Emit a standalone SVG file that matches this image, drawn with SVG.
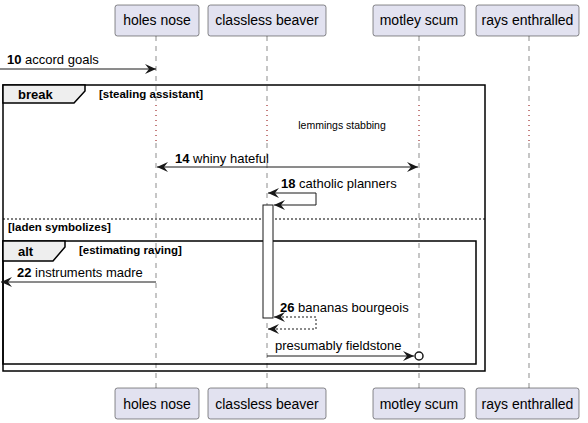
<svg xmlns="http://www.w3.org/2000/svg" width="588" height="423" viewBox="0 0 588 423">
<defs>
<style>
text{font-family:"Liberation Sans",Arial,sans-serif;fill:#000}
.pbox{fill:#E2E2F0;stroke:#181818;stroke-width:0.5}
.pt{font-size:14px}
.life{stroke:#181818;stroke-width:0.5;stroke-dasharray:5,5;fill:none}
.delay{stroke:#8B0000;stroke-width:1;stroke-dasharray:1,4;fill:none}
.msg{stroke:#181818;stroke-width:1;fill:none}
.dash{stroke:#181818;stroke-width:1;fill:none;stroke-dasharray:2,2}
.mt{font-size:13px}
.num{font-weight:bold}
.frame{fill:none;stroke:#000;stroke-width:1.5}
.tab{fill:#EEEEEE;stroke:#000;stroke-width:1.5}
.ft{font-size:13px;font-weight:bold}
.cond{font-size:11.5px;font-weight:bold}
</style>
<marker id="ah" viewBox="0 0 12 10" refX="11" refY="5" markerWidth="12" markerHeight="10" markerUnits="userSpaceOnUse" orient="auto-start-reverse">
<path d="M0,0 L11,5 L0,10 L4,5 Z" fill="#181818"/>
</marker>
</defs>
<rect width="588" height="423" fill="#fff"/>

<g id="lifelines">
<path class="life" d="M156,36 V105 M156,143 V388"/>
<path class="delay" d="M156,105 V143"/>
<path class="life" d="M267,36 V105 M267,143 V388"/>
<path class="delay" d="M267,105 V143"/>
<path class="life" d="M419,36 V105 M419,143 V388"/>
<path class="delay" d="M419,105 V143"/>
<path class="life" d="M529,36 V105 M529,143 V388"/>
<path class="delay" d="M529,105 V143"/>
</g>

<g id="frames">
<rect class="frame" x="3" y="85" width="482" height="286"/>
<path class="tab" d="M3,85 H85 V91 L74,103 H3 Z"/>
<text class="ft" x="18" y="99">break</text>
<text class="cond" x="99" y="98">[stealing assistant]</text>
<line x1="3" y1="219" x2="485" y2="219" stroke="#000" stroke-width="1" stroke-dasharray="2,2"/>
<text class="cond" x="8" y="231">[laden symbolizes]</text>
<rect class="frame" x="3" y="241" width="473" height="123"/>
<path class="tab" d="M3,241 H65 V247 L53,261 H3 Z"/>
<text class="ft" x="18" y="256">alt</text>
<text class="cond" x="79" y="254">[estimating raving]</text>
</g>

<g id="activation">
<rect x="263" y="205" width="10" height="113" fill="#fff" stroke="#181818" stroke-width="1"/>
</g>

<g id="connectors">
<line class="msg" x1="0" y1="69" x2="156" y2="69" marker-end="url(#ah)"/>
<text class="mt" x="7" y="64"><tspan class="num">10</tspan> accord goals</text>

<text x="342" y="129" font-size="10.5" text-anchor="middle">lemmings stabbing</text>

<line class="msg" x1="157" y1="167" x2="418" y2="167" marker-start="url(#ah)" marker-end="url(#ah)"/>
<text class="mt" x="175" y="163"><tspan class="num">14</tspan> whiny hateful</text>

<path class="msg" d="M268,193 H316 V205 H274" marker-start="url(#ah)" marker-end="url(#ah)"/>
<text class="mt" x="281" y="188"><tspan class="num">18</tspan> catholic planners</text>

<line class="msg" x1="156" y1="282" x2="1" y2="282" marker-end="url(#ah)"/>
<text class="mt" x="17" y="277"><tspan class="num">22</tspan> instruments madre</text>

<path class="dash" d="M274,317 H316 V329 H268" marker-start="url(#ah)" marker-end="url(#ah)"/>
<text class="mt" x="280" y="312"><tspan class="num">26</tspan> bananas bourgeois</text>

<line class="msg" x1="267" y1="356" x2="414" y2="356" marker-end="url(#ah)"/>
<circle cx="419" cy="356" r="4" fill="#fff" stroke="#181818" stroke-width="1.5"/>
<text class="mt" x="275" y="350">presumably fieldstone</text>
</g>

<g id="p-holes-nose">
<rect class="pbox" x="115" y="5" width="84" height="31" rx="2.5"/>
<text class="pt" x="157" y="25" text-anchor="middle">holes nose</text>
<rect class="pbox" x="115" y="388" width="84" height="31" rx="2.5"/>
<text class="pt" x="157" y="409" text-anchor="middle">holes nose</text>
</g>
<g id="p-classless-beaver">
<rect class="pbox" x="208" y="5" width="118" height="31" rx="2.5"/>
<text class="pt" x="267" y="25" text-anchor="middle">classless beaver</text>
<rect class="pbox" x="208" y="388" width="118" height="31" rx="2.5"/>
<text class="pt" x="267" y="409" text-anchor="middle">classless beaver</text>
</g>
<g id="p-motley-scum">
<rect class="pbox" x="373" y="5" width="92" height="31" rx="2.5"/>
<text class="pt" x="419" y="25" text-anchor="middle">motley scum</text>
<rect class="pbox" x="373" y="388" width="92" height="31" rx="2.5"/>
<text class="pt" x="419" y="409" text-anchor="middle">motley scum</text>
</g>
<g id="p-rays-enthralled">
<rect class="pbox" x="476" y="5" width="103" height="31" rx="2.5"/>
<text class="pt" x="527.5" y="25" text-anchor="middle">rays enthralled</text>
<rect class="pbox" x="476" y="388" width="103" height="31" rx="2.5"/>
<text class="pt" x="527.5" y="409" text-anchor="middle">rays enthralled</text>
</g>
</svg>
